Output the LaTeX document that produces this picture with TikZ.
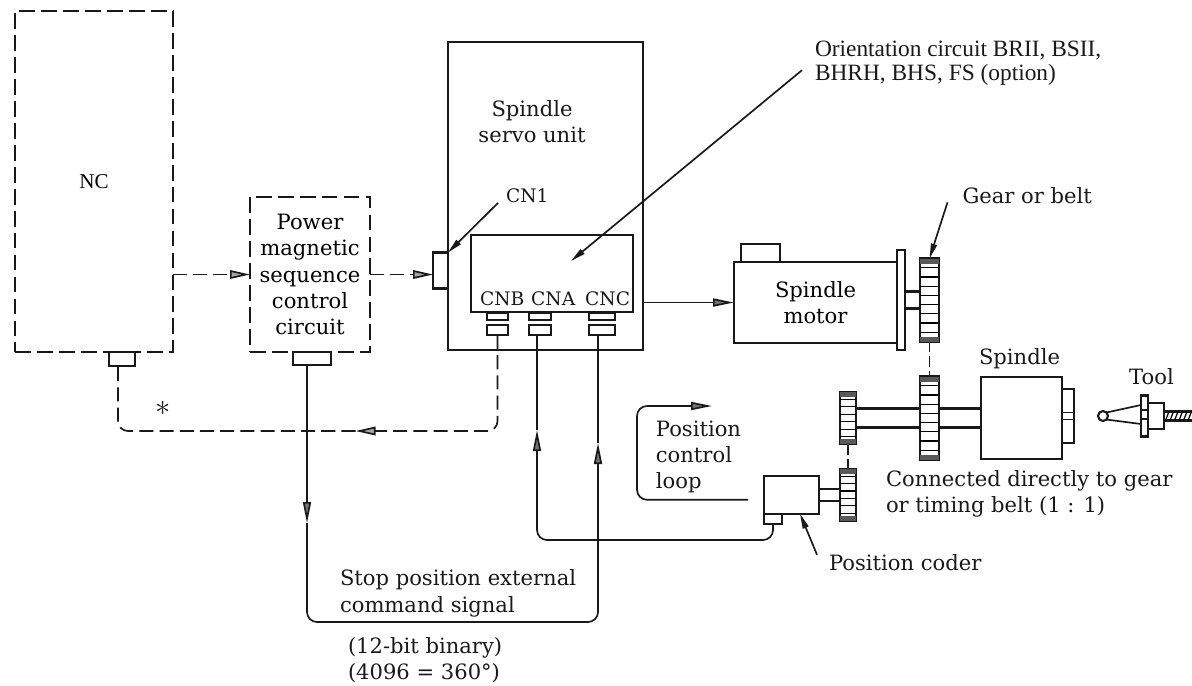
\documentclass[tikz,border=0pt]{standalone}
\usepackage{fontspec}
\setmainfont{DejaVu Serif}
\newfontfamily\printfont{Liberation Serif}
\usepackage{tikz}
\usetikzlibrary{arrows.meta,positioning,calc}
\newcommand{\gearteeth}[2]{%
  \fill[black!65] (#1.north west) rectangle ([yshift=-.1cm]#1.north east);
  \fill[black!65] (#1.south west) rectangle ([yshift=.1cm]#1.south east);
  \foreach \i in {1,...,#2}
    \draw[line width=.7pt] ($(#1.north west)!\i/(#2+1)!(#1.south west)$)
      -- ($(#1.north east)!\i/(#2+1)!(#1.south east)$);
}

\begin{document}
\begin{tikzpicture}[
  box/.style 2 args = {rectangle, draw=black!90, line width=1.2pt, inner sep=0pt,
                 outer sep=0pt, minimum width=#1, minimum height=#2,
                 align=center, font=\fontsize{12}{15}\selectfont},
  dashbox/.style = {dash pattern=on 9pt off 3.5pt},
  txt/.style   = {inner sep=0pt, outer sep=0pt, align=left, text=black!90,
                  font=\fontsize{12}{15}\selectfont},
  small/.style = {font=\fontsize{10.6}{15}\selectfont},
  sig/.style   = {line width=.95pt, draw=black!90},
  sigtip/.style = {sig, -{Stealth[length=.42cm,width=.16cm,inset=0pt,fill=black!55]}},
  dashsig/.style = {sig, dash pattern=on 8pt off 3.5pt},
  dashtip/.style = {dashsig, -{Stealth[length=.4cm,width=.17cm,inset=0pt,fill=black!35]}},
  lead/.style  = {line width=.95pt, draw=black!90,
                  -{Stealth[length=.3cm,width=.12cm,inset=0pt]}}
]
\useasboundingbox (0,0) rectangle (23.84,-13.70);

%% ─── Control side: NC, sequence circuit, servo unit ─────────────
\node[box={3.16cm}{6.82cm}, dashbox, anchor=north west, font=\printfont\fontsize{12}{15}\selectfont] (nc)
  at (.3,-.22) {NC};

\node[box={2.4cm}{3.1cm}, dashbox, right=1.54cm of nc.south east, anchor=south west] (power)
  {Power\\magnetic\\sequence\\control\\circuit};

\node[box={3.9cm}{6.16cm}, right=1.56cm of power.south east, anchor=south west,
      yshift=.04cm] (servo) {};

\node[box={3.24cm}{1.54cm}, anchor=south east, xshift=-.2cm, yshift=.76cm] (inner)
  at (servo.south east) {};

\node[box={.3cm}{.72cm}, anchor=east, yshift=.06cm] (cn1) at (servo.west |- inner.west) {};

\node[box={.52cm}{.28cm}, below=0pt of nc.south, xshift=.56cm] (ncport) {};
\node[box={.76cm}{.26cm}, below=0pt of power.south, xshift=.04cm] (pmcport) {};

%% ─── Connector stubs under the circuit board ────────────────────
\node[box={.42cm}{.14cm}, below=.02cm of inner.south west, xshift=.53cm] (cnbup) {};
\node[box={.42cm}{.2cm}, below=.1cm of cnbup] (cnbdown) {};
\node[box={.44cm}{.14cm}, below=.02cm of inner.south west, xshift=1.38cm] (cnaup) {};
\node[box={.44cm}{.2cm}, below=.1cm of cnaup] (cnadown) {};
\node[box={.52cm}{.14cm}, below=.02cm of inner.south west, xshift=2.62cm] (cncup) {};
\node[box={.52cm}{.2cm}, below=.1cm of cncup] (cncdown) {};

\node[txt, small, above right=.12cm and .18cm of inner.south west] (cnb) {CNB};
\node[txt, small, right=.14cm of cnb] (cna) {CNA};
\node[txt, small, right=.2cm of cna] (cnc) {CNC};

%% ─── Motor with flange and first gear ───────────────────────────
\node[box={3.26cm}{1.62cm}, right=1.82cm of servo.south east, anchor=south west,
      yshift=.14cm] (motor) {Spindle\\motor};
\node[box={.78cm}{.36cm}, above right=0pt and .14cm of motor.north west] (terminal) {};
\node[box={.16cm}{2.0cm}, right=0pt of motor.east, yshift=.05cm] (flange) {};
\node[box={.3cm}{.34cm}, right=0pt of flange] (motorshaft) {};
\node[box={.38cm}{1.66cm}, right=0pt of motorshaft] (gearone) {};

%% ─── Spindle line ───────────────────────────────────────────────
\node[box={.38cm}{1.66cm}, below=.7cm of gearone] (geartwo) {};
\node[box={.84cm}{.38cm}, right=0pt of geartwo] (shaftright) {};
\node[box={1.62cm}{1.64cm}, right=0pt of shaftright] (spindle) {};
\node[box={.24cm}{1.08cm}, right=0pt of spindle, yshift=.04cm] (nose) {};
\node[box={1.28cm}{.38cm}, left=0pt of geartwo] (shaftleft) {};
\node[box={.32cm}{1.04cm}, left=0pt of shaftleft] (gearthree) {};

%% ─── Position coder ─────────────────────────────────────────────
\node[box={.32cm}{1.03cm}, below=.5cm of gearthree] (gearfour) {};
\node[box={.42cm}{.24cm}, left=0pt of gearfour] (codershaft) {};
\node[box={1.1cm}{.76cm}, left=0pt of codershaft] (coder) {};
\node[box={.36cm}{.2cm}, below right=0pt and 0pt of coder.south west] (coderfoot) {};

%% ─── Tool ───────────────────────────────────────────────────────
\node[box={.14cm}{.82cm}, right=1.34cm of nose.east] (toolflange) {};
\node[box={.32cm}{.52cm}, right=0pt of toolflange] (collar) {};
\node[box={.7cm}{.18cm}, right=0pt of collar] (thread) {};
\node[box={.2cm}{.2cm}, circle, left=.66cm of toolflange] (ball) {};

\draw[sig] (ball.north east) -- ([yshift=.22cm]toolflange.west);
\draw[sig] (ball.south east) -- ([yshift=-.16cm]toolflange.west);
\draw[sig] ([yshift=.12cm]toolflange.west) -- ([yshift=.12cm]toolflange.east);
\draw[sig] ([yshift=-.06cm]toolflange.west) -- ([yshift=-.06cm]toolflange.east);
\foreach \i in {0,...,5}
  \draw[line width=.7pt] ([xshift=\i*.09cm+.03cm]thread.south west)
    -- ([xshift=\i*.09cm+.1cm]thread.north west);

\draw[sig] ([yshift=.07cm]nose.west) -- ([yshift=.07cm]nose.east);
\draw[sig] ([yshift=-.07cm]nose.west) -- ([yshift=-.07cm]nose.east);

\gearteeth{gearone}{8}
\gearteeth{geartwo}{8}
\gearteeth{gearthree}{6}
\gearteeth{gearfour}{6}

\draw[sig, dash pattern=on 6pt off 2.5pt] (gearone) -- (geartwo);
\draw[sig, dash pattern=on 6pt off 2.5pt] (gearthree) -- (gearfour);

%% ─── Labels ─────────────────────────────────────────────────────
\node[txt, align=center, below=1.16cm of servo.north, xshift=-.27cm] (servotext)
  {Spindle\\servo unit};
\node[txt, small, above right=.64cm and .7cm of inner.north west] (cn1text) {CN1};
\node[txt, right=3.44cm of servo.north east, anchor=north west, yshift=.02cm,
      font=\printfont\fontsize{13.3}{13.6}\selectfont] (orient)
  {Orientation circuit BRII, BSII,\\BHRH, BHS, FS (option)};
\node[txt, above right=1.1cm and .66cm of gearone.north] (geartext) {Gear or belt};
\node[txt, above=.16cm of spindle, xshift=-.04cm] (spindletext) {Spindle};
\node[txt, above=.22cm of toolflange, xshift=.14cm] (tooltext) {Tool};
\node[txt, below=.22cm of geartwo.south west, anchor=north west, xshift=-.68cm] (direct)
  {Connected directly to gear\\or timing belt (1 : 1)};
\node[txt, below right=.82cm and .2cm of coder.south east] (codertext) {Position coder};
\node[txt, left=.46cm of coder.north west, anchor=north east, yshift=1.1cm] (looptext)
  {Position\\control\\loop};
\node[txt, font=\fontsize{17}{17}\selectfont, below right=.7cm and .66cm of ncport.south] (star) {$\ast$};

%% ─── Dashed signals ─────────────────────────────────────────────
\draw[dashtip] (nc.east |- power.west) -- (power.west);
\draw[dashtip] (power.east) -- (power.east -| cn1.west);

\coordinate (cnbcorner) at ([yshift=-1.92cm]cnbdown.south);
\coordinate (stoparrow) at ([xshift=-2.84cm]cnbcorner);
\draw[dashtip, rounded corners=.2cm] (cnbdown.south) -- (cnbcorner) -- (stoparrow);
\draw[dashsig, rounded corners=.2cm] (stoparrow) -| ([xshift=-.08cm]ncport.south);

%% ─── Solid signals ──────────────────────────────────────────────
\draw[sigtip] (servo.east |- motor.west) -- (motor.west);

\coordinate (pmcline) at ([xshift=-.1cm]pmcport.south);
\coordinate (pmctip) at ([yshift=-3.16cm]pmcline);
\coordinate (cncline) at ([xshift=-.08cm]cncdown.south);
\coordinate (cnctip) at ([yshift=-2.16cm]cncline);
\coordinate (cncfoot) at ([yshift=-5.74cm]cncline);
\coordinate (cmdcorner) at (pmcline |- cncfoot);
\draw[sigtip] (pmcline) -- (pmctip);
\draw[sigtip, rounded corners=.2cm] (pmctip) -- (cmdcorner) -- (cncfoot) -- (cnctip);
\draw[sig] (cnctip) -- (cncline);

\coordinate (cnaline) at ([xshift=-.06cm]cnadown.south);
\coordinate (cnatip) at ([yshift=-1.9cm]cnaline);
\coordinate (cnafoot) at ([yshift=-4.1cm]cnaline);
\draw[sigtip, rounded corners=.2cm] (coderfoot.south) |- (cnafoot) -- (cnatip);
\draw[sig] (cnatip) -- (cnaline);

\coordinate (loopstart) at ([xshift=-.32cm,yshift=-.1cm]coder.west);
\coordinate (looptop) at (12.74,-8.12);
\coordinate (loopend) at (14.24,-8.12);
\draw[sigtip, rounded corners=.2cm] (loopstart) -| (looptop) -- (loopend);

%% ─── Leaders ────────────────────────────────────────────────────
\draw[lead] ([xshift=-.16cm,yshift=-.14cm]cn1text.west) -- (cn1.north east);
\draw[lead] ([xshift=-.26cm,yshift=-.14cm]orient.west)
  -- ([xshift=2.0cm,yshift=-.52cm]inner.north west);
\draw[lead] ([xshift=-.3cm,yshift=-.14cm]geartext.west) -- (gearone.north);
\draw[lead] ([xshift=-.24cm]codertext.north west) -- ([xshift=.17cm]coder.south);

%% ─── Text under the command line ────────────────────────────────
\node[txt, above right=.1cm and .66cm of cmdcorner] (stoptext)
  {Stop position external\\command signal};
\node[txt, below right=.3cm and .82cm of cmdcorner] (bitstext)
  {(12-bit binary)\\(4096 = 360°)};

\end{tikzpicture}
\end{document}
